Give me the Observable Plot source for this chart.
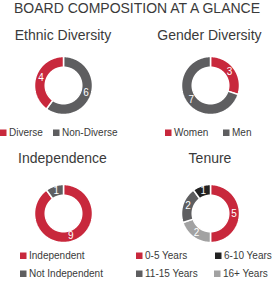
<!DOCTYPE html>
<html><head><meta charset="utf-8">
<script src="https://cdn.jsdelivr.net/npm/d3@7"></script>
<script src="https://cdn.jsdelivr.net/npm/@observablehq/plot@0.6"></script>
<style>
body{margin:0;background:#fff;font-family:"Liberation Sans",Arial,sans-serif}
#root{position:relative;width:274px;height:281px;overflow:hidden;background:#fff}
#root > svg{position:absolute;left:0;top:0}
.donut{position:absolute}
</style></head><body><div id="root"></div>
<script>
// ---- data ----
const chartTitle = "BOARD COMPOSITION AT A GLANCE";
const panelTitles = ["Ethnic Diversity", "Gender Diversity", "Independence", "Tenure"];

const ethnicCategories = ["Diverse", "Non-Diverse"];
const ethnicValues = [4, 6];
const genderCategories = ["Women", "Men"];
const genderValues = [3, 7];
const independenceCategories = ["Independent", "Not Independent"];
const independenceValues = [9, 1];
const tenureCategories = ["0-5 Years", "6-10 Years", "11-15 Years", "16+ Years"];
const tenureValues = [5, 1, 2, 2];

// ---- styles ----
const RED = "#c8283c", DARK = "#5e5e60", BLACK = "#222222", LIGHT = "#a2a2a2";
const TEXT = "#3a3a3a";
const FONT = "'Liberation Sans', Arial, sans-serif";
const R = 29, INNER = 0.63;

const panels = [
  {title: panelTitles[0], cats: ethnicCategories, vals: ethnicValues, colors: [RED, DARK], order: [1, 0],
   cx: 63, cy: 85, tx: 63, ty: 40,
   legend: [[0, 136], [53, 136]]},
  {title: panelTitles[1], cats: genderCategories, vals: genderValues, colors: [RED, DARK], order: [0, 1],
   cx: 210, cy: 85, tx: 209.5, ty: 40,
   legend: [[165, 136], [223, 136]]},
  {title: panelTitles[2], cats: independenceCategories, vals: independenceValues, colors: [RED, DARK], order: [0, 1],
   cx: 63, cy: 213, tx: 62.5, ty: 162.5,
   legend: [[20, 259], [20, 277]]},
  {title: panelTitles[3], cats: tenureCategories, vals: tenureValues, colors: [RED, BLACK, DARK, LIGHT], order: [0, 3, 2, 1],
   cx: 210, cy: 213, tx: 210, ty: 162.5,
   legend: [[136, 259], [215, 259], [136, 277], [214, 277]]}
];

const root = document.getElementById("root");

function donut(p) {
  const total = d3.sum(p.vals);
  let acc = 0;
  const slices = p.order.map(i => {
    const a0 = acc / total * 2 * Math.PI;
    acc += p.vals[i];
    const a1 = acc / total * 2 * Math.PI;
    return {cat: p.cats[i], value: p.vals[i], a0, a1};
  });
  const pts = [];
  for (const s of slices) {
    const n = Math.max(2, Math.ceil((s.a1 - s.a0) / (Math.PI / 120)));
    for (let k = 0; k <= n; k++) {
      const a = s.a0 + (s.a1 - s.a0) * k / n;
      pts.push({cat: s.cat, x: Math.sin(a), y: Math.cos(a)});
    }
    for (let k = n; k >= 0; k--) {
      const a = s.a0 + (s.a1 - s.a0) * k / n;
      pts.push({cat: s.cat, x: INNER * Math.sin(a), y: INNER * Math.cos(a)});
    }
  }
  const rl = (1 + INNER) / 2;
  const labels = slices.map(s => {
    const a = (s.a0 + s.a1) / 2;
    return {x: rl * Math.sin(a), y: rl * Math.cos(a), text: String(s.value)};
  });
  const S = 70, ext = S / 2 / R;
  const chart = Plot.plot({
    width: S, height: S, margin: 0,
    style: {background: "transparent", fontFamily: FONT, overflow: "visible"},
    x: {domain: [-ext, ext], axis: null},
    y: {domain: [-ext, ext], axis: null},
    color: {domain: p.cats, range: p.colors},
    marks: [
      Plot.line(pts, {x: "x", y: "y", z: "cat", fill: "cat", stroke: "white", strokeWidth: 1.5, curve: "linear-closed"}),
      Plot.text(labels, {x: "x", y: "y", text: "text", fill: "white", fontSize: 10})
    ]
  });
  chart.classList.add("donut");
  chart.style.left = (p.cx - S / 2) + "px";
  chart.style.top = (p.cy - S / 2) + "px";
  root.appendChild(chart);
}

panels.forEach(donut);

// text overlay
const svg = d3.select(root).append("svg").attr("width", 274).attr("height", 281)
  .style("font-family", FONT).style("pointer-events", "none");
svg.append("text").attr("x", 137).attr("y", 13).attr("text-anchor", "middle")
  .attr("font-size", 14).attr("fill", TEXT).text(chartTitle);
for (const p of panels) {
  svg.append("text").attr("x", p.tx).attr("y", p.ty).attr("text-anchor", "middle")
    .attr("font-size", 14).attr("fill", TEXT).text(p.title);
  p.cats.forEach((c, i) => {
    const [lx, ly] = p.legend[i];
    svg.append("rect").attr("x", lx).attr("y", ly - 6.5).attr("width", 6.5).attr("height", 6.5).attr("fill", p.colors[i]);
    svg.append("text").attr("x", lx + 9).attr("y", ly).attr("font-size", 10).attr("fill", TEXT).text(c);
  });
}
</script>
</body></html>
